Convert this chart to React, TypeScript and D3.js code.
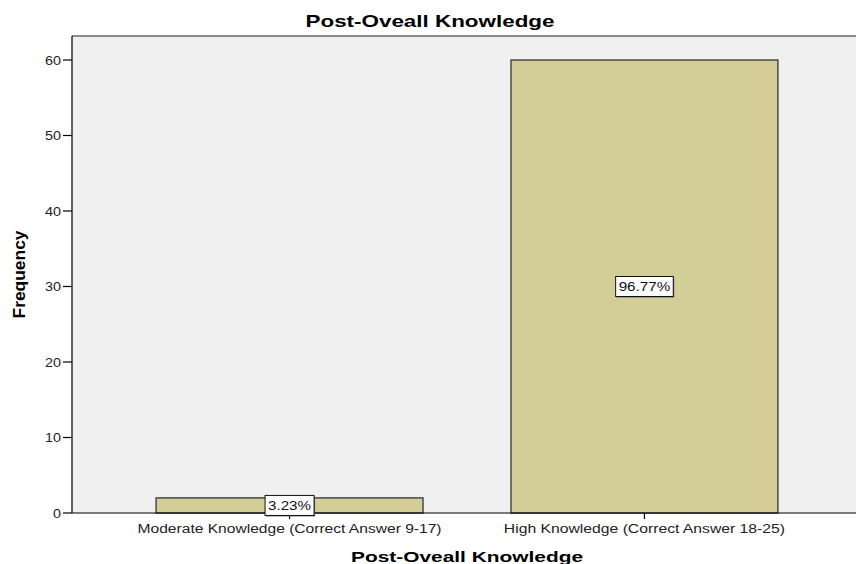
import React from 'react'
import * as d3 from 'd3'

const width = 856
const height = 564

const chartTitle = 'Post-Oveall Knowledge'
const xTitle = 'Post-Oveall Knowledge'
const yTitle = 'Frequency'
const categories = ['Moderate Knowledge (Correct Answer 9-17)', 'High Knowledge (Correct Answer 18-25)']
const frequencies = [2, 60]
const percentLabels = ['3.23%', '96.77%']
const yTicks = [0, 10, 20, 30, 40, 50, 60]

const plot = { left: 72, right: 862, top: 36, bottom: 513 }
const font = '"Liberation Sans", Arial, sans-serif'

export default function App() {
  const x = d3.scaleBand()
    .domain(categories)
    .range([plot.left, plot.right])
    .paddingInner(0.248)
    .paddingOuter(0.237)

  const y = d3.scaleLinear()
    .domain([0, 60])
    .range([plot.bottom, 60])

  return (
    <div>
      <style>{`body { margin: 0; }`}</style>
      <svg width={width} height={height} style={{ display: 'block', fontFamily: font }}>
        <rect x={0} y={0} width={width} height={height} fill="#fff" />

        {/* plot background */}
        <rect x={plot.left} y={plot.top} width={plot.right - plot.left} height={plot.bottom - plot.top} fill="#f0f0f0" />
        <line x1={plot.left} x2={plot.right} y1={plot.top} y2={plot.top} stroke="#8a8a8a" strokeWidth={2} />

        <text x={430} y={27} textAnchor="middle" fontSize={17} fontWeight="bold" textLength={249} lengthAdjust="spacingAndGlyphs">{chartTitle}</text>

        {/* bars */}
        {categories.map((c, i) => (
          <rect key={c}
            x={x(c)}
            y={y(frequencies[i])}
            width={x.bandwidth()}
            height={y(0) - y(frequencies[i])}
            fill="#d3ce97"
            stroke="#4a4a44"
            strokeWidth={1.5} />
        ))}

        {/* y axis */}
        <line x1={plot.left} x2={plot.left} y1={plot.top} y2={plot.bottom} stroke="#000" strokeWidth={1.2} />
        {yTicks.map(t => (
          <g key={t} transform={`translate(0,${y(t)})`}>
            <line x1={plot.left - 9} x2={plot.left} stroke="#000" strokeWidth={1.2} />
            <text x={61} dy="0.35em" textAnchor="end" fontSize={13} textLength={t < 10 ? 8 : 16} lengthAdjust="spacingAndGlyphs" fill="#222">{t}</text>
          </g>
        ))}
        <text transform={`translate(25,${(plot.top + plot.bottom) / 2}) rotate(-90)`} textAnchor="middle" fontSize={16} fontWeight="bold" textLength={88} lengthAdjust="spacingAndGlyphs">{yTitle}</text>

        {/* x axis */}
        <line x1={plot.left} x2={plot.right} y1={plot.bottom} y2={plot.bottom} stroke="#000" strokeWidth={1.2} />
        {categories.map(c => {
          const cx = (x(c) as number) + x.bandwidth() / 2
          return (
            <g key={c}>
              <line x1={cx} x2={cx} y1={plot.bottom} y2={plot.bottom + 6} stroke="#000" strokeWidth={1.2} />
              <text x={cx} y={533} textAnchor="middle" fontSize={12} textLength={c.length * 7.6} lengthAdjust="spacingAndGlyphs" fill="#222">{c}</text>
            </g>
          )
        })}
        <text x={(plot.left + plot.right) / 2} y={562} textAnchor="middle" fontSize={15} fontWeight="bold" textLength={232} lengthAdjust="spacingAndGlyphs">{xTitle}</text>

        {/* percentage labels */}
        {categories.map((c, i) => {
          const cx = (x(c) as number) + x.bandwidth() / 2
          const cy = (y(frequencies[i]) + y(0)) / 2
          const w = percentLabels[i].length * 8.6 + 6
          return (
            <g key={c}>
              <rect x={cx - w / 2 + 1} y={cy - 10 + 1} width={w} height={20} fill="#666" />
              <rect x={cx - w / 2} y={cy - 10} width={w} height={20} fill="#fff" stroke="#111" strokeWidth={1} />
              <text x={cx} y={cy} dy="0.36em" textAnchor="middle" fontSize={12} textLength={w - 6} lengthAdjust="spacingAndGlyphs" fill="#111">{percentLabels[i]}</text>
            </g>
          )
        })}
      </svg>
    </div>
  )
}
